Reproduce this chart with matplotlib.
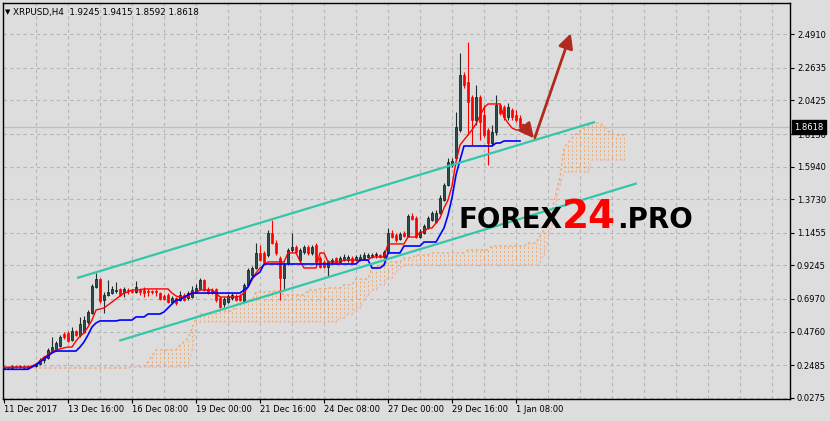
import matplotlib.pyplot as plt
import matplotlib.transforms as mtransforms
import numpy as np

symbol = "XRPUSD,H4"
last_ohlc = "1.9245 1.9415 1.8592 1.8618"
last_price = 1.8618

# H4 candles, bar 0 = 11 Dec 2017 00:00
open_ = [0.232, 0.236, 0.230, 0.242, 0.233, 0.244, 0.232, 0.245, 0.242, 0.256,
         0.280, 0.300, 0.344, 0.351, 0.378, 0.460, 0.466, 0.419, 0.480, 0.453,
         0.473, 0.541, 0.602, 0.778, 0.832, 0.690, 0.724, 0.737, 0.751, 0.765,
         0.744, 0.758, 0.751, 0.744, 0.758, 0.758, 0.751, 0.751, 0.751, 0.737,
         0.717, 0.724, 0.676, 0.704, 0.690, 0.724, 0.704, 0.710, 0.744, 0.765,
         0.826, 0.765, 0.758, 0.765, 0.704, 0.663, 0.676, 0.704, 0.717, 0.717,
         0.683, 0.792, 0.860, 0.907, 1.009, 1.009, 0.995, 1.144, 1.077, 0.975,
         0.839, 0.941, 1.029, 1.049, 0.961, 1.015, 1.049, 1.009, 1.063, 0.975,
         0.948, 0.914, 0.948, 0.975, 0.948, 0.961, 0.961, 0.975, 0.961, 0.961,
         0.975, 0.982, 0.982, 0.995, 0.995, 0.982, 1.015, 1.144, 1.131, 1.104,
         1.144, 1.124, 1.260, 1.246, 1.117, 1.144, 1.178, 1.232, 1.219, 1.280,
         1.368, 1.470, 1.605, 1.653, 1.843, 2.216, 2.168, 2.066, 1.910, 2.066,
         1.944, 1.843, 1.754, 1.829, 2.012, 1.999, 1.931, 1.978, 1.944, 1.9245]
high = [0.242, 0.240, 0.246, 0.246, 0.249, 0.247, 0.250, 0.252, 0.263, 0.297,
        0.312, 0.365, 0.439, 0.412, 0.453, 0.473, 0.480, 0.507, 0.487, 0.575,
        0.582, 0.622, 0.799, 0.873, 0.839, 0.744, 0.826, 0.785, 0.812, 0.771,
        0.778, 0.771, 0.765, 0.819, 0.771, 0.778, 0.765, 0.758, 0.765, 0.744,
        0.731, 0.737, 0.717, 0.710, 0.751, 0.737, 0.751, 0.785, 0.799, 0.839,
        0.832, 0.778, 0.771, 0.771, 0.717, 0.710, 0.731, 0.737, 0.731, 0.731,
        0.805, 0.907, 0.921, 1.077, 1.063, 1.022, 1.165, 1.232, 1.097, 0.988,
        0.948, 1.043, 1.144, 1.063, 1.043, 1.063, 1.063, 1.063, 1.077, 0.988,
        0.961, 0.961, 0.975, 0.982, 0.988, 1.002, 0.995, 0.988, 0.995, 1.002,
        1.015, 1.009, 1.009, 1.015, 1.002, 1.029, 1.178, 1.165, 1.144, 1.151,
        1.158, 1.273, 1.280, 1.260, 1.171, 1.205, 1.260, 1.293, 1.300, 1.402,
        1.483, 1.653, 1.653, 1.965, 2.365, 2.236, 2.439, 2.080, 2.148, 2.080,
        2.012, 1.856, 1.877, 2.080, 2.026, 2.012, 2.026, 1.992, 1.978, 1.9415]
low = [0.226, 0.226, 0.226, 0.229, 0.229, 0.226, 0.228, 0.236, 0.236, 0.249,
       0.262, 0.290, 0.337, 0.344, 0.371, 0.426, 0.405, 0.412, 0.446, 0.439,
       0.466, 0.527, 0.595, 0.771, 0.670, 0.602, 0.717, 0.731, 0.737, 0.717,
       0.710, 0.731, 0.737, 0.737, 0.724, 0.710, 0.717, 0.731, 0.717, 0.690,
       0.690, 0.670, 0.670, 0.656, 0.683, 0.683, 0.690, 0.704, 0.737, 0.758,
       0.751, 0.731, 0.731, 0.676, 0.636, 0.643, 0.670, 0.690, 0.683, 0.683,
       0.676, 0.785, 0.846, 0.900, 0.954, 0.941, 0.982, 1.070, 0.995, 0.690,
       0.765, 0.927, 1.015, 1.002, 0.948, 1.002, 0.995, 0.995, 0.941, 0.907,
       0.907, 0.846, 0.934, 0.934, 0.941, 0.954, 0.948, 0.941, 0.954, 0.954,
       0.968, 0.975, 0.975, 0.975, 0.975, 0.975, 1.002, 1.110, 1.083, 1.097,
       1.117, 1.117, 1.232, 1.110, 1.110, 1.137, 1.171, 1.226, 1.212, 1.273,
       1.361, 1.463, 1.592, 1.639, 1.829, 2.130, 1.809, 1.741, 1.877, 1.775,
       1.795, 1.605, 1.734, 1.809, 1.944, 1.910, 1.910, 1.910, 1.897, 1.8592]
close = [0.236, 0.230, 0.242, 0.233, 0.244, 0.232, 0.245, 0.240, 0.256, 0.283,
         0.300, 0.351, 0.371, 0.399, 0.439, 0.439, 0.412, 0.480, 0.453, 0.527,
         0.554, 0.609, 0.785, 0.832, 0.683, 0.724, 0.744, 0.765, 0.758, 0.724,
         0.765, 0.751, 0.744, 0.778, 0.744, 0.737, 0.744, 0.744, 0.744, 0.697,
         0.697, 0.676, 0.704, 0.670, 0.724, 0.690, 0.737, 0.758, 0.771, 0.826,
         0.758, 0.737, 0.737, 0.690, 0.643, 0.697, 0.717, 0.724, 0.690, 0.690,
         0.792, 0.893, 0.907, 1.009, 0.961, 0.948, 1.144, 1.077, 1.009, 0.839,
         0.927, 1.029, 1.049, 1.015, 1.029, 1.049, 1.009, 1.049, 0.948, 0.914,
         0.914, 0.948, 0.961, 0.941, 0.975, 0.982, 0.982, 0.948, 0.982, 0.982,
         0.995, 0.995, 0.995, 0.995, 0.982, 1.015, 1.144, 1.117, 1.097, 1.137,
         1.124, 1.260, 1.239, 1.117, 1.151, 1.192, 1.246, 1.280, 1.280, 1.382,
         1.470, 1.626, 1.632, 1.863, 2.216, 2.150, 2.032, 1.910, 2.066, 1.897,
         1.809, 1.754, 1.829, 2.012, 1.958, 1.931, 1.999, 1.931, 1.910, 1.8618]

# Ichimoku lines
tenkan = [0.234, 0.234, 0.234, 0.234, 0.234, 0.234, 0.234, 0.242, 0.256, 0.276,
          0.303, 0.317, 0.337, 0.351, 0.358, 0.365, 0.371, 0.371, 0.412, 0.446,
          0.466, 0.507, 0.554, 0.622, 0.629, 0.636, 0.656, 0.676, 0.697, 0.717,
          0.737, 0.744, 0.758, 0.758, 0.758, 0.765, 0.765, 0.765, 0.765, 0.765,
          0.765, 0.765, 0.737, 0.717, 0.710, 0.710, 0.710, 0.744, 0.737, 0.758,
          0.758, 0.758, 0.758, 0.737, 0.710, 0.710, 0.710, 0.710, 0.710, 0.717,
          0.737, 0.778, 0.826, 0.873, 0.907, 0.927, 0.948, 0.948, 0.948, 0.948,
          0.948, 1.009, 1.009, 1.009, 0.954, 0.907, 0.907, 0.907, 0.907, 1.009,
          1.009, 0.948, 0.948, 0.948, 0.948, 0.961, 0.961, 0.961, 0.961, 0.961,
          0.961, 0.961, 0.982, 0.982, 0.982, 0.982, 1.070, 1.070, 1.070, 1.070,
          1.070, 1.117, 1.117, 1.117, 1.151, 1.151, 1.178, 1.178, 1.212, 1.246,
          1.314, 1.368, 1.463, 1.626, 1.741, 1.775, 1.809, 1.843, 1.884, 1.938,
          1.992, 2.019, 2.019, 2.019, 2.019, 1.931, 1.890, 1.856, 1.843, 1.843]
kijun = [0.220, 0.220, 0.220, 0.220, 0.220, 0.220, 0.220, 0.236, 0.249, 0.270,
         0.290, 0.310, 0.331, 0.344, 0.344, 0.344, 0.344, 0.344, 0.344, 0.371,
         0.405, 0.453, 0.507, 0.534, 0.548, 0.548, 0.548, 0.548, 0.548, 0.554,
         0.554, 0.554, 0.554, 0.575, 0.575, 0.575, 0.595, 0.595, 0.595, 0.595,
         0.609, 0.636, 0.663, 0.690, 0.690, 0.710, 0.724, 0.737, 0.737, 0.737,
         0.737, 0.737, 0.737, 0.737, 0.737, 0.737, 0.737, 0.737, 0.737, 0.737,
         0.758, 0.778, 0.839, 0.860, 0.880, 0.934, 0.934, 0.934, 0.934, 0.934,
         0.934, 0.934, 0.934, 0.934, 0.934, 0.934, 0.934, 0.934, 0.934, 0.934,
         0.934, 0.934, 0.934, 0.934, 0.934, 0.934, 0.934, 0.934, 0.934, 0.961,
         0.961, 0.961, 0.907, 0.907, 0.907, 0.927, 1.009, 1.009, 1.009, 1.009,
         1.056, 1.056, 1.056, 1.056, 1.056, 1.083, 1.083, 1.083, 1.083, 1.131,
         1.178, 1.266, 1.382, 1.538, 1.639, 1.734, 1.734, 1.734, 1.734, 1.734,
         1.734, 1.734, 1.734, 1.754, 1.754, 1.768, 1.768, 1.768, 1.768, 1.768]
# senkou spans, already shifted 26 bars ahead
span_a = [0.229, 0.229, 0.229, 0.229, 0.229, 0.229, 0.229, 0.229, 0.229, 0.229,
          0.229, 0.229, 0.229, 0.229, 0.229, 0.229, 0.229, 0.229, 0.229, 0.229,
          0.229, 0.229, 0.229, 0.229, 0.229, 0.229, 0.229, 0.229, 0.229, 0.229,
          0.229, 0.229, 0.236, 0.236, 0.236, 0.236, 0.270, 0.310, 0.351, 0.351,
          0.351, 0.351, 0.351, 0.351, 0.385, 0.405, 0.432, 0.500, 0.568, 0.595,
          0.595, 0.595, 0.595, 0.595, 0.615, 0.615, 0.615, 0.615, 0.649, 0.690,
          0.690, 0.690, 0.690, 0.744, 0.744, 0.744, 0.744, 0.751, 0.751, 0.751,
          0.724, 0.724, 0.724, 0.724, 0.724, 0.724, 0.758, 0.758, 0.758, 0.765,
          0.765, 0.771, 0.771, 0.771, 0.771, 0.792, 0.792, 0.792, 0.832, 0.832,
          0.832, 0.832, 0.907, 0.907, 0.927, 0.927, 0.948, 0.948, 0.948, 0.948,
          0.975, 0.975, 0.975, 0.995, 0.995, 0.995, 0.995, 1.009, 1.009, 1.009,
          1.009, 1.009, 1.009, 1.009, 1.009, 1.009, 1.029, 1.029, 1.029, 1.029,
          1.029, 1.029, 1.056, 1.056, 1.056, 1.056, 1.056, 1.056, 1.056, 1.056,
          1.056, 1.077, 1.077, 1.077, 1.124, 1.165, 1.232, 1.300, 1.415, 1.524,
          1.721, 1.754, 1.788, 1.816, 1.836, 1.856, 1.870, 1.890, 1.890, 1.890,
          1.870, 1.836, 1.816, 1.809, 1.809, 1.809]
span_b = [0.236, 0.236, 0.236, 0.236, 0.236, 0.236, 0.236, 0.236, 0.236, 0.236,
          0.236, 0.236, 0.236, 0.236, 0.236, 0.236, 0.236, 0.236, 0.236, 0.236,
          0.236, 0.236, 0.236, 0.236, 0.236, 0.236, 0.236, 0.236, 0.236, 0.236,
          0.236, 0.236, 0.236, 0.236, 0.236, 0.236, 0.236, 0.236, 0.236, 0.236,
          0.236, 0.236, 0.236, 0.236, 0.236, 0.236, 0.236, 0.351, 0.514, 0.541,
          0.541, 0.541, 0.541, 0.541, 0.541, 0.541, 0.541, 0.541, 0.541, 0.541,
          0.541, 0.541, 0.541, 0.541, 0.541, 0.541, 0.541, 0.541, 0.541, 0.541,
          0.541, 0.541, 0.541, 0.541, 0.541, 0.541, 0.541, 0.541, 0.541, 0.541,
          0.541, 0.541, 0.541, 0.541, 0.568, 0.568, 0.595, 0.595, 0.636, 0.636,
          0.690, 0.724, 0.758, 0.758, 0.792, 0.792, 0.839, 0.839, 0.880, 0.907,
          0.927, 0.927, 0.927, 0.927, 0.927, 0.927, 0.927, 0.927, 0.927, 0.927,
          0.927, 0.927, 0.927, 0.927, 0.927, 0.927, 0.927, 0.927, 0.927, 0.927,
          0.927, 0.927, 0.927, 0.927, 0.927, 0.927, 0.927, 0.927, 0.927, 0.927,
          0.927, 0.927, 0.927, 0.927, 0.948, 0.995, 1.097, 1.199, 1.334, 1.470,
          1.558, 1.558, 1.558, 1.558, 1.558, 1.558, 1.558, 1.639, 1.639, 1.639,
          1.639, 1.639, 1.639, 1.639, 1.639, 1.639]

y_ticks = [0.0275, 0.2485, 0.4760, 0.6970, 0.9245, 1.1455, 1.3730, 1.5940,
           1.8150, 2.0425, 2.2635, 2.4910]
x_tick_bars = [0, 16, 32, 48, 64, 80, 96, 112, 128]
x_tick_labels = ["11 Dec 2017", "13 Dec 16:00", "16 Dec 08:00", "19 Dec 00:00",
                 "21 Dec 16:00", "24 Dec 08:00", "27 Dec 00:00", "29 Dec 16:00",
                 "1 Jan 08:00"]

# drawn objects: channel lines and arrows, as (bar, price)
upper_channel = ([18.25, 147.75], [0.839, 1.897])
lower_channel = ([28.8, 158.2], [0.414, 1.481])
arrow_down = ((129.8, 1.876), (132.5, 1.786))
arrow_up = ((132.7, 1.790), (141.7, 2.498))

W, H = 830, 421
bg = '#DDDDDD'
fig = plt.figure(figsize=(W / 100, H / 100), dpi=100)
fig.patch.set_facecolor(bg)
ax = fig.add_axes([3 / W, 22 / H, 787 / W, 396 / H])
ax.set_facecolor(bg)
ax.set_xlim(-0.25, 196.5)
ax.set_ylim(0.0187, 2.7035)

# grid
for yt in y_ticks:
    ax.axhline(yt, color='#B5B5B5', lw=0.8, ls=(0, (3, 3)), zorder=1)
for xb in range(8, 197, 8):
    ax.axvline(xb, color='#B5B5B5', lw=0.8, ls=(0, (3, 3)), zorder=1)
ax.axhline(last_price, color='#BEBEBE', lw=0.9, zorder=1.5)

# cloud
sa = np.array(span_a)
sb = np.array(span_b)
ci = np.arange(len(sa))
cloud_cols = ['#F4A460' if a >= b else '#D8BFD8' for a, b in zip(sa, sb)]
ax.vlines(ci, np.minimum(sa, sb), np.maximum(sa, sb), colors=cloud_cols,
          linestyles=(0, (2.5, 2.5)), lw=0.6, zorder=2)
ax.plot(ci, sa, color='#F4A460', lw=0.9, ls=(0, (2, 2)), zorder=2.2)
ax.plot(np.arange(len(sb)), sb, color='#D8BFD8', lw=0.9, ls=(0, (2, 2)), zorder=2.2)

# candles
o = np.array(open_)
h = np.array(high)
l = np.array(low)
c = np.array(close)
idx = np.arange(len(c))
up = c >= o
body_lo = np.minimum(o, c)
body_h = np.maximum(np.abs(c - o), 0.005)
ax.vlines(idx[up], l[up], h[up], color='#1E2E2E', lw=0.8, zorder=4)
ax.vlines(idx[~up], l[~up], h[~up], color='#FF0000', lw=0.8, zorder=4)
ax.bar(idx[up], body_h[up], bottom=body_lo[up], width=0.7, color='#2F4F4F',
       edgecolor='#111111', linewidth=0.5, zorder=5)
ax.bar(idx[~up], body_h[~up], bottom=body_lo[~up], width=0.7, color='#FF0000',
       edgecolor='#FF0000', linewidth=0.5, zorder=5)

ax.plot(np.arange(len(tenkan)), tenkan, color='#FF0000', lw=1.0, zorder=6)
ax.plot(np.arange(len(kijun)), kijun, color='#0000FF', lw=1.2, zorder=6)

# channel and arrows
for line in (upper_channel, lower_channel):
    ax.plot(line[0], line[1], color='#33C6A8', lw=1.6, zorder=7,
            solid_capstyle='butt')
for tail, tip in (arrow_down, arrow_up):
    ax.annotate('', xy=tip, xytext=tail, zorder=8,
                arrowprops=dict(arrowstyle='-|>,head_length=0.8,head_width=0.4',
                                color='#B02A20', lw=2, mutation_scale=11,
                                shrinkA=0, shrinkB=0))

# axes
for sp in ax.spines.values():
    sp.set_color('black')
    sp.set_linewidth(1)
ax.yaxis.tick_right()
ax.set_yticks(y_ticks)
ax.set_yticklabels([f'{v:.4f}' for v in y_ticks])
ax.tick_params(axis='y', direction='out', length=3, width=0.8, pad=2,
               labelsize=6, colors='black')
ax.set_xticks(x_tick_bars)
ax.set_xticklabels(x_tick_labels)
ax.tick_params(axis='x', direction='out', length=3, width=0.8, pad=1.5,
               labelsize=6, colors='black')
for lbl in ax.get_xticklabels():
    lbl.set_ha('left')

trans = mtransforms.blended_transform_factory(ax.transAxes, ax.transData)
ax.text(1 + 4 / 787, last_price, f'{last_price:.4f}', transform=trans,
        color='white', fontsize=6, va='center', ha='left', clip_on=False,
        zorder=10, bbox=dict(boxstyle='square,pad=0.3', fc='black', ec='black'))

# header
fig.text(5 / W, 1 - 12 / H, '\u25bc', fontsize=5, va='center')
fig.text(13 / W, 1 - 12 / H, f'{symbol}  {last_ohlc}', fontsize=6.3, va='center')

# watermark
fig.text(458 / W, 1 - 228 / H, 'FOREX', fontsize=20, weight='bold',
         color='black', va='baseline', zorder=20)
fig.text(562 / W, 1 - 228 / H, '24', fontsize=28, weight='bold',
         color='#FF0000', va='baseline', zorder=20)
fig.text(617 / W, 1 - 228 / H, '.PRO', fontsize=20, weight='bold',
         color='black', va='baseline', zorder=20)

fig.savefig('out.png', dpi=100, facecolor=bg)
